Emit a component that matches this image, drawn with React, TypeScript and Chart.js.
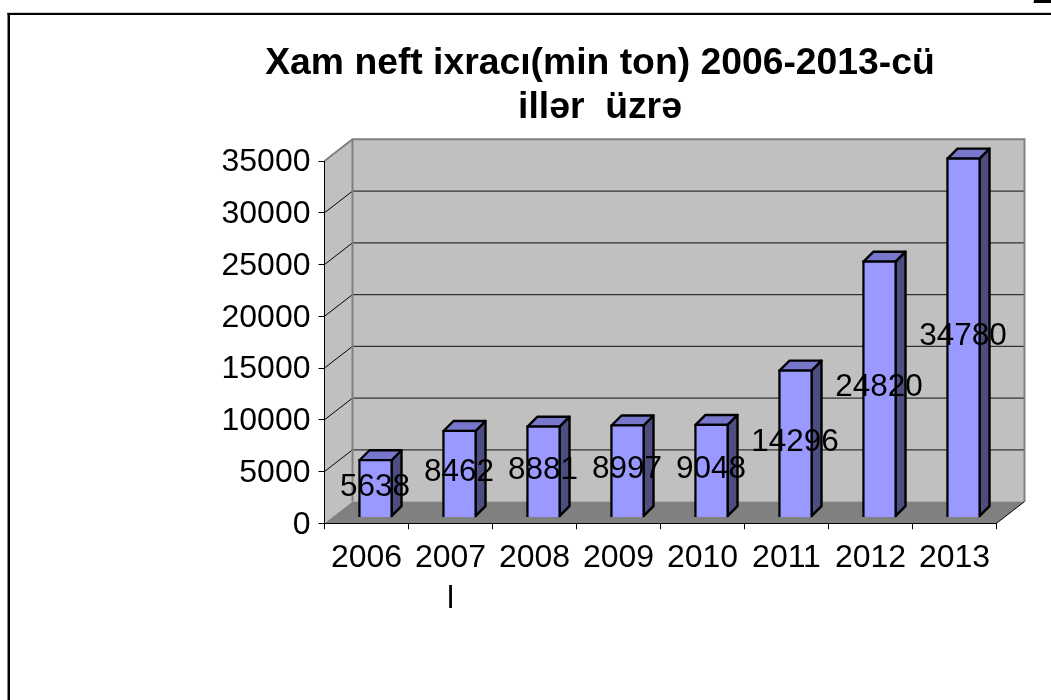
import React, { useEffect, useRef } from "react";
import { Chart, registerables } from "chart.js";

Chart.register(...registerables);

const categories = ["2006", "2007", "2008", "2009", "2010", "2011", "2012", "2013"];
const exportValues = [5638, 8462, 8881, 8997, 9048, 14296, 24820, 34780];
const titleLines = ["Xam neft ixracı(min ton) 2006-2013-cü", "illər  üzrə"];
const FONT = '"Liberation Sans", Arial, sans-serif';

const WALL_DX = 28;
const WALL_DY = 21.7;
const BAR_SHIFT_X = 9;
const BAR_SHIFT_Y = 5.7;
const BAR_DEPTH = 10;
const Y_LABEL_SHIFT = 1.5;

const scene3d = {
  id: "scene3d",
  afterLayout(chart: any) {
    const items = chart.scales.y.getLabelItems(chart.chartArea);
    items.forEach((it: any) => { it.options.translation[1] += Y_LABEL_SHIFT; });
  },
  beforeDraw(chart: any) {
    const { ctx, chartArea: a, scales } = chart;
    const y = scales.y;
    ctx.save();
    ctx.fillStyle = "#ffffff";
    ctx.fillRect(0, 0, chart.width, chart.height);
    ctx.fillStyle = "#d0d0d0";
    ctx.fillRect(7, 12, chart.width - 7, 1);
    ctx.fillStyle = "#000000";
    ctx.fillRect(7.5, 13, chart.width - 7.5, 2);
    ctx.fillRect(7.5, 13, 2.5, chart.height - 13);
    ctx.font = `italic bold 44px "Liberation Serif", serif`;
    ctx.textAlign = "left";
    ctx.textBaseline = "alphabetic";
    ctx.fillText("2", 1034, 3);
    const L = a.left, R = a.right, T = a.top, B = a.bottom;
    const dx = WALL_DX, dy = WALL_DY;
    ctx.fillStyle = "#c0c0c0";
    ctx.fillRect(L + dx, T - dy, R - L, B - T);
    ctx.beginPath();
    ctx.moveTo(L, T); ctx.lineTo(L + dx, T - dy); ctx.lineTo(L + dx, B - dy); ctx.lineTo(L, B);
    ctx.closePath(); ctx.fill();
    ctx.fillStyle = "#808080";
    ctx.beginPath();
    ctx.moveTo(L, B); ctx.lineTo(L + dx, B - dy); ctx.lineTo(R + dx, B - dy); ctx.lineTo(R, B);
    ctx.closePath(); ctx.fill();
    y.ticks.forEach((t: any) => {
      const py = y.getPixelForValue(t.value);
      if (t.value > 0 && t.value < y.max) {
        ctx.strokeStyle = "#333333"; ctx.lineWidth = 1.3;
        ctx.beginPath(); ctx.moveTo(L + dx, py - dy); ctx.lineTo(R + dx, py - dy); ctx.stroke();
        ctx.strokeStyle = "#000000"; ctx.lineWidth = 1;
        ctx.beginPath(); ctx.moveTo(L, py); ctx.lineTo(L + dx, py - dy); ctx.stroke();
      }
    });
    ctx.strokeStyle = "#808080"; ctx.lineWidth = 2;
    ctx.beginPath();
    ctx.moveTo(L, T); ctx.lineTo(L + dx, T - dy); ctx.lineTo(R + dx, T - dy); ctx.lineTo(R + dx, B - dy);
    ctx.moveTo(L + dx, T - dy); ctx.lineTo(L + dx, B - dy);
    ctx.stroke();
    ctx.strokeStyle = "#000000"; ctx.lineWidth = 1;
    ctx.beginPath(); ctx.moveTo(R, B); ctx.lineTo(R + dx, B - dy); ctx.stroke();
    ctx.restore();
  },
  beforeDatasetDraw(chart: any, args: any) {
    const { ctx } = chart;
    const meta = chart.getDatasetMeta(args.index);
    ctx.save();
    ctx.translate(BAR_SHIFT_X, -BAR_SHIFT_Y);
    meta.data.forEach((bar: any) => {
      const r = bar.x + bar.width / 2 - 1, l = bar.x - bar.width / 2 + 1;
      const t = bar.y + 1, b = bar.base - 1, d = BAR_DEPTH;
      ctx.lineWidth = 2.4; ctx.strokeStyle = "#000000"; ctx.lineJoin = "round";
      ctx.fillStyle = "#4d4d80";
      ctx.beginPath();
      ctx.moveTo(r, t); ctx.lineTo(r + d, t - d); ctx.lineTo(r + d, b - d); ctx.lineTo(r, b);
      ctx.closePath(); ctx.fill(); ctx.stroke();
      ctx.fillStyle = "#7777cc";
      ctx.beginPath();
      ctx.moveTo(l, t); ctx.lineTo(l + d, t - d); ctx.lineTo(r + d, t - d); ctx.lineTo(r, t);
      ctx.closePath(); ctx.fill(); ctx.stroke();
    });
  },
  afterDatasetDraw(chart: any) {
    chart.ctx.restore();
  },
  afterDatasetsDraw(chart: any) {
    const { ctx } = chart;
    const meta = chart.getDatasetMeta(0);
    ctx.save();
    ctx.fillStyle = "#000000";
    ctx.font = `31.5px ${FONT}`;
    ctx.textAlign = "center";
    ctx.textBaseline = "middle";
    meta.data.forEach((bar: any, i: number) => {
      ctx.fillText(String(exportValues[i]), bar.x + BAR_SHIFT_X - 0.5, (bar.y + bar.base) / 2 - BAR_SHIFT_Y - 1.3);
    });
    ctx.restore();
  },
};

export default function App() {
  const ref = useRef<HTMLCanvasElement>(null);
  useEffect(() => {
    const chart = new Chart(ref.current as HTMLCanvasElement, {
      type: "bar",
      data: {
        labels: categories.map((c) => (c === "2007" ? [c, "l"] : c)) as any,
        datasets: [
          {
            label: "Xam neft ixracı",
            data: exportValues,
            backgroundColor: "#9999ff",
            borderColor: "#000000",
            borderWidth: 2.4,
            barThickness: 34,
          },
        ],
      },
      options: {
        responsive: false,
        animation: false,
        layout: { padding: { left: 203.5, right: 54.5, top: 42, bottom: 0 } },
        plugins: {
          legend: { display: false },
          tooltip: { enabled: false },
          title: {
            display: true,
            text: titleLines,
            color: "#000000",
            font: { family: FONT, size: 37.3, weight: "bold", lineHeight: 1.18 },
            padding: { top: 0, bottom: 31 },
          },
        },
        scales: {
          x: {
            afterFit(s: any) { s.height = 176.7; },
            border: { color: "#000000", width: 1 },
            grid: { drawOnChartArea: false, drawTicks: true, tickLength: 6, tickColor: "#000000", offset: true },
            ticks: {
              color: "#000000",
              padding: 8,
              maxRotation: 0,
              minRotation: 0,
              autoSkip: false,
              font: { family: FONT, size: 32, lineHeight: 1.28 },
            },
          },
          y: {
            min: 0,
            max: 35000,
            afterFit(s: any) { s.width = 121; },
            border: { color: "#000000", width: 1 },
            grid: { drawOnChartArea: false, drawTicks: true, tickLength: 6, tickColor: "#000000" },
            ticks: {
              stepSize: 5000,
              color: "#000000",
              padding: 8,
              font: { family: FONT, size: 32 },
              callback: (v: any) => String(v),
            },
          },
        },
      },
      plugins: [scene3d],
    } as any);
    return () => chart.destroy();
  }, []);
  return (
    <div style={{ position: "fixed", left: 0, top: 0, width: 1051, height: 700, overflow: "hidden" }}>
      <canvas ref={ref} width={1051} height={700} style={{ display: "block" }} />
    </div>
  );
}
